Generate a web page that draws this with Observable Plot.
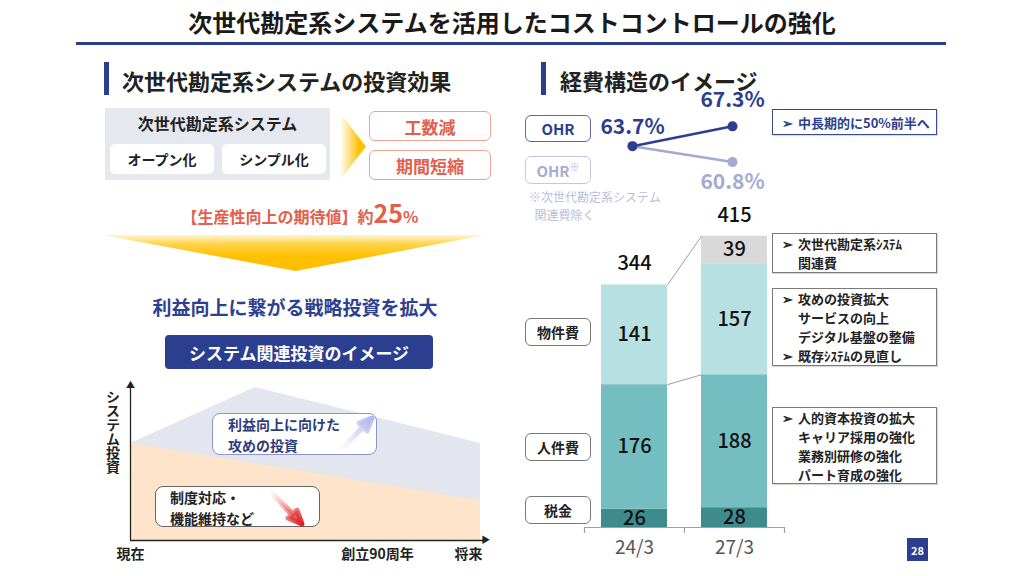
<!DOCTYPE html>
<html><head><meta charset="utf-8">
<script src="https://cdn.jsdelivr.net/npm/d3@7"></script>
<script src="https://cdn.jsdelivr.net/npm/@observablehq/plot@0.6"></script>
<style>
body{margin:0;width:1024px;height:576px;background:#fff;position:relative;overflow:hidden;font-family:"Noto Sans CJK JP","Noto Sans",sans-serif;color:#222}
.a{position:absolute}
.box{position:absolute;display:flex;align-items:center;justify-content:center;box-sizing:border-box}
.note{position:absolute;box-sizing:border-box;border:1.3px solid #7a7a7a;background:#fff;font-size:13px;font-weight:700;line-height:19px;padding:0 0 0 9px;box-shadow:1px 1px 1px rgba(0,0,0,.15)}
.note .r{display:flex}
.note .m{width:16px;flex:none}
.cat{position:absolute;left:525px;width:66px;height:28px;border:1.3px solid #777;border-radius:6px;box-sizing:border-box;display:flex;align-items:center;justify-content:center;font-size:14px;font-weight:700;background:#fff}
</style></head><body>
<div class="a" style="left:0;top:8px;width:1024px;text-align:center;font-size:24px;font-weight:700;line-height:28px;color:#1a1a1a">次世代勘定系システムを活用したコストコントロールの強化</div>
<div class="a" style="left:76px;top:42px;width:870px;height:3px;background:#2b3d8f"></div>

<!-- left section -->
<div class="a" style="left:104px;top:62px;width:5px;height:33px;background:#2b3d8f"></div>
<div class="a" style="left:122px;top:67px;font-size:22px;font-weight:700;line-height:26px">次世代勘定系システムの投資効果</div>
<div class="a" style="left:105px;top:108px;width:225px;height:72px;background:#e6e8ef"></div>
<div class="a" style="left:105px;top:112px;width:225px;text-align:center;font-size:16px;font-weight:700;line-height:22px">次世代勘定系システム</div>
<div class="box" style="left:110px;top:144px;width:104px;height:30px;background:#fff;border-radius:5px;font-size:14px;font-weight:700">オープン化</div>
<div class="box" style="left:222px;top:144px;width:104px;height:30px;background:#fff;border-radius:5px;font-size:14px;font-weight:700">シンプル化</div>
<div class="a" style="left:340px;top:113px;width:26px;height:67px;clip-path:polygon(0 0,100% 50%,0 100%);background:linear-gradient(to right,rgba(255,192,0,0),#ffc000 75%)"></div>
<div class="box" style="left:369px;top:111px;width:122px;height:30px;border:1.5px solid #f2a193;border-radius:6px;color:#e3604c;font-size:17px;font-weight:700">工数減</div>
<div class="box" style="left:369px;top:150px;width:122px;height:30px;border:1.5px solid #f2a193;border-radius:6px;color:#e3604c;font-size:17px;font-weight:700">期間短縮</div>
<div class="a" style="left:90px;top:197px;width:420px;text-align:center;color:#e3604c;font-weight:700;font-size:16px;line-height:30px">【生産性向上の期待値】約<span style="font-size:25px">25</span>%</div>
<div class="a" style="left:103px;top:235px;width:382px;height:36px;clip-path:polygon(0 0,100% 0,50.5% 100%);background:linear-gradient(to bottom,#fff6d0 0%,#ffd34a 25%,#ffc000 60%,#ffbf00 100%)"></div>
<div class="a" style="left:90px;top:293px;width:410px;text-align:center;color:#2e4190;font-weight:700;font-size:19px;line-height:28px">利益向上に繋がる戦略投資を拡大</div>
<div class="box" style="left:165px;top:335px;width:268px;height:34px;background:#2b3e8f;border-radius:4px;color:#fff;font-size:17px;font-weight:700">システム関連投資のイメージ</div>
<div id="area" class="a" style="left:100px;top:375px"></div>
<div class="a" style="left:104px;top:390px;writing-mode:vertical-rl;text-orientation:upright;font-size:14px;font-weight:700;line-height:18px;letter-spacing:0">システム投資</div>
<div class="a" style="left:212px;top:413px;width:165px;height:42px;box-sizing:border-box;border:1.3px solid #8e95c8;border-radius:8px;background:#fff;color:#2e3d7c;font-size:14px;font-weight:700;line-height:20.5px;padding:0 0 0 15px">利益向上に向けた<br>攻めの投資
<svg class="a" style="left:124px;top:2px" width="38" height="36"><defs><linearGradient id="g1" x1="0" y1="1" x2="1" y2="0"><stop offset="0" stop-color="#c8ccf2" stop-opacity="0"/><stop offset="1" stop-color="#b5b9f0"/></linearGradient></defs><polygon points="3,35 26,11 22,7 35,2 30,15 26,11 3,35" fill="url(#g1)" stroke="url(#g1)" stroke-width="5" stroke-linejoin="round"/></svg></div>
<div class="a" style="left:155px;top:486px;width:165px;height:41px;box-sizing:border-box;border:1.3px solid #666;border-radius:8px;background:#fff;color:#222;font-size:14px;font-weight:700;line-height:20.5px;padding:0 0 0 14px">制度対応・<br>機能維持など
<svg class="a" style="left:110px;top:2px" width="40" height="38"><defs><linearGradient id="g2" x1="0" y1="0" x2="1" y2="1"><stop offset="0" stop-color="#f08080" stop-opacity="0"/><stop offset="1" stop-color="#e02020"/></linearGradient></defs><polygon points="4,2 26,26 22,29 36,35 31,21 27,25 4,2" fill="url(#g2)" stroke="url(#g2)" stroke-width="5" stroke-linejoin="round"/></svg></div>

<!-- right section -->
<div class="a" style="left:541px;top:62px;width:5px;height:33px;background:#2b3d8f"></div>
<div class="a" style="left:560px;top:67px;font-size:22px;font-weight:700;line-height:26px">経費構造のイメージ</div>
<div class="box" style="left:525px;top:115px;width:66px;height:27px;border:1.3px solid #5d69ad;border-radius:6px;color:#2d3e8e;font-size:15px;font-weight:700">OHR</div>
<div class="box" style="left:525px;top:156px;width:66px;height:28px;border:1.3px solid #c3c7e2;border-radius:6px;color:#a7adcf;font-size:15px;font-weight:700">OHR<span style="font-size:10px;margin-top:-8px">※</span></div>
<div class="a" style="left:529px;top:188px;color:#b9bdd8;font-size:12px;line-height:17.5px">※次世代勘定系システム<br>&nbsp;&nbsp;関連費除く</div>
<div id="ohr" class="a" style="left:590px;top:90px"></div>
<div class="note" style="left:772px;top:109px;width:165px;height:26px;border-color:#3a4a8f;color:#2d3e8e;display:flex;align-items:center"><div class="m">➢</div>中長期的に50%前半へ</div>

<div id="bar" class="a" style="left:560px;top:200px"></div>
<div class="cat" style="top:318px">物件費</div>
<div class="cat" style="top:433px">人件費</div>
<div class="cat" style="top:496px">税金</div>
<div class="note" style="left:772px;top:233px;width:165px;height:40px;padding-top:0px"><div class="r"><div class="m">➢</div>次世代勘定系ｼｽﾃﾑ</div><div class="r"><div class="m"></div>関連費</div></div>
<div class="note" style="left:772px;top:288px;width:165px;height:78px;padding-top:0px"><div class="r"><div class="m">➢</div>攻めの投資拡大</div><div class="r"><div class="m"></div>サービスの向上</div><div class="r"><div class="m"></div>デジタル基盤の整備</div><div class="r"><div class="m">➢</div>既存ｼｽﾃﾑの見直し</div></div>
<div class="note" style="left:772px;top:407px;width:165px;height:77px;padding-top:0px"><div class="r"><div class="m">➢</div>人的資本投資の拡大</div><div class="r"><div class="m"></div>キャリア採用の強化</div><div class="r"><div class="m"></div>業務別研修の強化</div><div class="r"><div class="m"></div>パート育成の強化</div></div>
<div class="box" style="left:907px;top:538px;width:21px;height:23px;background:#2b3e8f;color:#fff;font-size:11px;font-weight:700">28</div>

<script>
// ---- data ----
const periods = ["24/3", "27/3"];
const costCategories = ["税金", "人件費", "物件費", "次世代勘定系システム関連費"];
const costColors = ["#3d8b8d", "#74bdc1", "#b7e0e3", "#d9d9d9"];
const costs2403 = [26, 176, 141, 0];
const costs2703 = [28, 188, 157, 39];
const totals = [344, 415];

const ohrSeries = ["OHR", "OHR※"];
const ohrStart = [63.7, 63.7];
const ohrEnd = [67.3, 60.8];
const ohrColors = ["#2d3e8e", "#a3aad3"];

const imageTime = [0, 0.357, 1];
const imageTotal = [97, 153, 97];
const imageMaintenance = [97, 77, 40];
const imageTickLabels = ["現在", "創立90周年", "将来"];
const imageTickPos = [0, 0.706, 0.966];

const FONT = '"Noto Sans CJK JP","Noto Sans",sans-serif';
const baseStyle = {fontFamily: FONT, background: "transparent", overflow: "visible"};

// ---- stacked bar chart ----
const costSeries = [costs2403, costs2703];
const rows = [];
periods.forEach((p, i) => {
  let acc = 0;
  costCategories.forEach((c, j) => {
    const v = costSeries[i][j];
    if (!v) return;
    rows.push({period: p, i, cat: c, value: v, y1: acc, y2: acc + v});
    acc += v;
  });
});
const tops = costSeries.map(s => d3.sum(s));
const cumTop = (i, j) => d3.sum(costSeries[i].slice(0, j + 1));
const HALF = 0.33;
const links = [
  {y1: tops[0], y2: tops[1]},
  {y1: cumTop(0, 1), y2: cumTop(1, 1)}
];
const boundaries = periods.map((d, i) => i - 0.5).concat([periods.length - 0.5]);

const bar = Plot.plot({
  width: 240, height: 370, marginLeft: 24, marginRight: 16, marginTop: 30, marginBottom: 43,
  x: {domain: [-0.5, 1.5], axis: null},
  y: {domain: [0, 420], axis: null},
  color: {domain: costCategories, range: costColors},
  style: baseStyle,
  marks: [
    Plot.rectY(rows, {x1: d => d.i - HALF, x2: d => d.i + HALF, y1: "y1", y2: "y2", fill: "cat"}),
    Plot.link(links, {x1: d => HALF, x2: d => 1 - HALF, y1: "y1", y2: "y2", stroke: "#9c9c9c", strokeWidth: 1}),
    Plot.text(rows, {x: "i", y: d => (d.y1 + d.y2) / 2, text: d => String(d.value), fontSize: 20, fill: "#111", fontWeight: 500}),
    Plot.text(periods, {x: (d, i) => i, y: (d, i) => tops[i], text: (d, i) => String(totals[i]), dy: -21, fontSize: 20, fill: "#111", fontWeight: 500}),
    Plot.ruleY([0], {stroke: "#a0a0a0", strokeWidth: 1.2}),
    Plot.ruleX(boundaries, {x: d => d, y1: 0, y2: -8.5, stroke: "#a0a0a0", strokeWidth: 1.2}),
    Plot.text(periods, {x: (d, i) => i, text: d => d, frameAnchor: "bottom", dy: 26, fontSize: 19, fill: "#555"})
  ]
});
document.getElementById("bar").appendChild(bar);

// ---- OHR line chart ----
const ohrRows = ohrSeries.flatMap((s, k) => [{s, k, t: 0, v: ohrStart[k]}, {s, k, t: 1, v: ohrEnd[k]}]);
const ohrRowsDrawOrder = ohrRows.slice().sort((a, b) => b.k - a.k);
const ohr = Plot.plot({
  width: 180, height: 110, marginLeft: 42, marginRight: 38, marginTop: 32, marginBottom: 34,
  x: {domain: [0, 1], axis: null},
  y: {domain: [60, 68], axis: null},
  color: {domain: ohrSeries, range: ohrColors},
  style: baseStyle,
  marks: [
    Plot.line(ohrRowsDrawOrder.filter(d => d.k === 1), {x: "t", y: "v", stroke: "s", strokeWidth: 2.5}),
    Plot.line(ohrRowsDrawOrder.filter(d => d.k === 0), {x: "t", y: "v", stroke: "s", strokeWidth: 2.5}),
    Plot.dot(ohrRowsDrawOrder, {x: "t", y: "v", fill: "s", r: 5}),
    Plot.text(ohrRows.filter(d => d.k === 0 && d.t === 0), {x: "t", y: "v", text: d => d.v.toFixed(1) + "%", fill: "s", dy: -19, fontSize: 21, fontWeight: 700}),
    Plot.text(ohrRows.filter(d => d.k === 0 && d.t === 1), {x: "t", y: "v", text: d => d.v.toFixed(1) + "%", fill: "s", dy: -26, fontSize: 21, fontWeight: 700}),
    Plot.text(ohrRows.filter(d => d.k === 1 && d.t === 1), {x: "t", y: "v", text: d => d.v.toFixed(1) + "%", fill: "s", dy: 20, fontSize: 21, fontWeight: 700})
  ]
});
document.getElementById("ohr").appendChild(ohr);

// ---- system investment image (area) ----
const imgRows = imageTime.map((t, i) => ({t, total: imageTotal[i], maint: imageMaintenance[i]}));
const area = Plot.plot({
  width: 400, height: 200, marginLeft: 30, marginRight: 20, marginTop: 5, marginBottom: 35,
  x: {domain: [0, 1], axis: null},
  y: {domain: [0, 160], axis: null},
  style: baseStyle,
  marks: [
    Plot.areaY(imgRows, {x: "t", y: "total", fill: "#e3e5ef"}),
    Plot.areaY(imgRows, {x: "t", y: "maint", fill: "#fde4cb"}),
    Plot.ruleX([0], {y1: 0, y2: 152, stroke: "#222", strokeWidth: 1.3}),
    Plot.ruleY([0], {x1: 0, x2: 1.01, stroke: "#222", strokeWidth: 1.3}),
    Plot.text(["▲"], {x: 0, y: 155, text: d => d, fontSize: 9, fill: "#222"}),
    Plot.text(["▶"], {x: 1.015, y: 0, text: d => d, fontSize: 9, fill: "#222"}),
    Plot.text(imageTickLabels, {x: (d, i) => imageTickPos[i], text: d => d, frameAnchor: "bottom", dy: 18, fontSize: 14, fontWeight: 700, fill: "#222"})
  ]
});
document.getElementById("area").appendChild(area);
</script>
</body></html>
